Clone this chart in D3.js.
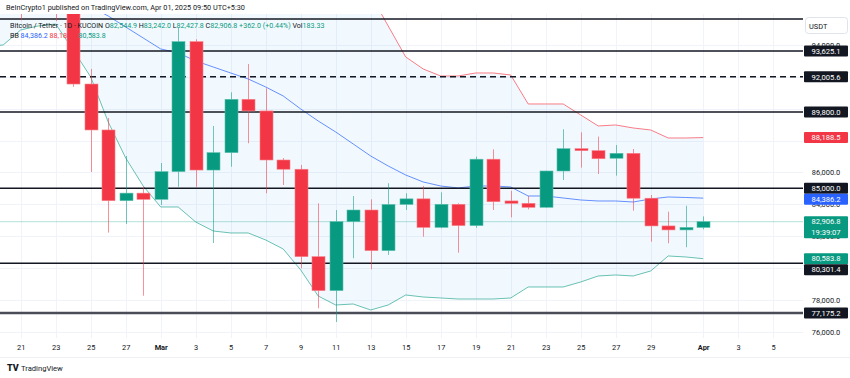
<!DOCTYPE html>
<html><head><meta charset="utf-8">
<script src="https://cdn.jsdelivr.net/npm/d3@7"></script>
<style>
html,body{margin:0;padding:0;background:#fff;}
svg{display:block;font-family:Roboto,"Liberation Sans",sans-serif;}
</style></head><body>
<svg id="chart" width="850" height="378"></svg>
<script>
// ---------- DATA ----------
const candleDates = ["2025-02-21","2025-02-22","2025-02-23","2025-02-24","2025-02-25","2025-02-26","2025-02-27","2025-02-28",
 "2025-03-01","2025-03-02","2025-03-03","2025-03-04","2025-03-05","2025-03-06","2025-03-07","2025-03-08","2025-03-09","2025-03-10",
 "2025-03-11","2025-03-12","2025-03-13","2025-03-14","2025-03-15","2025-03-16","2025-03-17","2025-03-18","2025-03-19","2025-03-20",
 "2025-03-21","2025-03-22","2025-03-23","2025-03-24","2025-03-25","2025-03-26","2025-03-27","2025-03-28","2025-03-29","2025-03-30",
 "2025-03-31","2025-04-01"];
const openV  = [98300,96150,96560,96280,91550,88665,84225,84700,84310,86050,94210,86150,87240,90590,89860,86780,86200,80710,78580,82910,83640,81090,83990,84340,82550,84000,82660,86830,84210,84060,83810,86090,87490,87365,86890,87200,84380,82640,82390,82544.9];
const highV  = [99480,96900,96650,96500,92500,89420,87030,85100,86590,95070,94360,88915,91030,92810,91280,86900,86470,84060,83640,84520,84310,85320,84690,85150,84750,84060,86990,87450,84850,84520,86100,88710,88520,88250,87720,87470,84580,83535,83910,83242.0];
const lowV   = [95550,96000,95500,91370,86030,82220,82760,78260,83955,85100,85100,81570,86360,87830,84690,85210,79980,77470,76610,80610,79920,80820,83640,81965,82490,80960,82530,83640,83180,83680,83780,85525,86300,85900,85800,83600,81650,81550,81300,82427.8];
const closeV = [96150,96560,96280,91550,88665,84225,84700,84310,86050,94210,86150,87240,90590,89860,86780,86200,80710,78580,82910,83640,81090,83990,84340,82550,84000,82660,86830,84160,84060,83810,86090,87490,87365,86860,87200,84380,82640,82390,82545,82906.8];

const bbDates = ["2025-02-19","2025-02-20"].concat(candleDates);
const bbMiddle = [98100,98000,97900,97700,97400,97000,96400,95823,95132,94441,93751,93500,92997,92620,92244,91867,91365,90800,89983,89230,
 88539,87786,87032,86404,85839,85400,85148,85023,85148,85148,85086,84520,84520,84395,84269,84206,84206,84143,84332,84457,84426,84386.2];
const bbUpper = [102600,102500,102400,102300,102200,102100,102200,102400,102500,102500,102600,102300,102000,101700,101200,100900,100600,100300,100000,99700,
 99000,98200,97140,95195,93250,92495,92055,92055,92244,92244,92118,90297,90297,90297,89607,88916,88979,88790,88665,88162,88162,88188.5];
const bbLower = [93900,94002,94944,95195,95320,93688,91993,89167,86907,85149,83830,83830,82889,82323,82198,82198,81758,81193,79875,78242,
 77677,77740,77363,77677,78305,78179,78116,78053,78053,78053,78116,78807,78807,78807,79121,79498,79561,79498,79812,80754,80691,80583.8];

const solidLevels = [95634, 93625.1, 89800.0, 85000.0, 80301.4];
const dashedLevels = [92005.6];
const majorLevels = [77175.2];
const labelledLevels = [93625.1, 92005.6, 89800.0, 85000.0, 80301.4, 77175.2];

const yTicks = [94000, 92000, 90000, 86000, 84000, 82000, 78000, 76000];
const xTickDates = ["2025-02-21","2025-02-23","2025-02-25","2025-02-27","2025-03-01","2025-03-03","2025-03-05","2025-03-07","2025-03-09",
 "2025-03-11","2025-03-13","2025-03-15","2025-03-17","2025-03-19","2025-03-21","2025-03-23","2025-03-25","2025-03-27","2025-03-29",
 "2025-04-01","2025-04-03","2025-04-05"];
const xTickLabels = ["21","23","25","27","Mar","3","5","7","9","11","13","15","17","19","21","23","25","27","29","Apr","3","5"];

const lastPrice = 82906.8, lastChange = "+362.0 (+0.44%)", countdown = "19:39:07";
const bbMidLast = 84386.2, bbUpLast = 88188.5, bbLowLast = 80583.8;
const legendOHLC = {O:"82,544.9", H:"83,242.0", L:"82,427.8", C:"82,906.8"};

// ---------- SETUP ----------
const W = 850, H = 378;
const plotL = 0, plotR = 803, plotT = 14, plotB = 338;
const UP = "#089981", DOWN = "#F23645", INK = "#131722";
const parse = d3.utcParse("%Y-%m-%d");
const fmt = d3.format(",.1f");

const x = d3.scaleUtc().domain([parse("2025-02-21"), parse("2025-04-05")]).range([20.7, 773.2]);
const y = d3.scaleLinear().domain([76000, 94000]).range([331.7, 45.0]);

const svg = d3.select("#chart");
svg.append("rect").attr("width", W).attr("height", H).attr("fill", "#fff");

const defs = svg.append("defs");
defs.append("clipPath").attr("id","plotclip").append("rect")
  .attr("x", plotL).attr("y", plotT).attr("width", plotR - plotL).attr("height", plotB - plotT);

const plot = svg.append("g").attr("clip-path","url(#plotclip)");

// grid
const gridTicks = d3.range(76000, 94001, 2000);
plot.append("g").selectAll("line").data(gridTicks).join("line")
  .attr("x1", plotL).attr("x2", plotR)
  .attr("y1", d => Math.round(y(d)) + 0.5).attr("y2", d => Math.round(y(d)) + 0.5)
  .attr("stroke", "#f0f3fa");
plot.append("g").selectAll("line").data(xTickDates).join("line")
  .attr("x1", d => Math.round(x(parse(d))) + 0.5).attr("x2", d => Math.round(x(parse(d))) + 0.5)
  .attr("y1", plotT).attr("y2", plotB)
  .attr("stroke", "#f0f3fa");

// Bollinger bands
const bb = bbDates.map((d, i) => ({t: parse(d), m: bbMiddle[i], u: bbUpper[i], l: bbLower[i]}));
plot.append("path").datum(bb)
  .attr("d", d3.area().x(d => x(d.t)).y0(d => y(d.l)).y1(d => y(d.u)))
  .attr("fill", "rgba(33,150,243,0.06)");
const line = key => d3.line().x(d => x(d.t)).y(d => y(d[key]));
plot.append("path").datum(bb).attr("d", line("u")).attr("fill","none").attr("stroke","#F7525F").attr("stroke-opacity",0.75).attr("stroke-width",1);
plot.append("path").datum(bb).attr("d", line("l")).attr("fill","none").attr("stroke","#089981").attr("stroke-opacity",0.6).attr("stroke-width",1);
plot.append("path").datum(bb).attr("d", line("m")).attr("fill","none").attr("stroke","#2962FF").attr("stroke-opacity",0.7).attr("stroke-width",1);

// last price line
plot.append("line").attr("x1", plotL).attr("x2", plotR)
  .attr("y1", y(lastPrice)).attr("y2", y(lastPrice))
  .attr("stroke", UP).attr("stroke-opacity", 0.3).attr("stroke-width", 1);

// level lines
plot.append("g").selectAll("line").data(solidLevels).join("line")
  .attr("x1", plotL).attr("x2", plotR).attr("y1", d => y(d)).attr("y2", d => y(d))
  .attr("stroke", INK).attr("stroke-width", 1.5);
plot.append("g").selectAll("line").data(dashedLevels).join("line")
  .attr("x1", plotL).attr("x2", plotR).attr("y1", d => y(d)).attr("y2", d => y(d))
  .attr("stroke", INK).attr("stroke-width", 1.5).attr("stroke-dasharray", "6,4");
plot.append("g").selectAll("line").data(majorLevels).join("line")
  .attr("x1", plotL).attr("x2", plotR).attr("y1", d => y(d)).attr("y2", d => y(d))
  .attr("stroke", "#4a4d57").attr("stroke-width", 2.5);

// candles
const candles = candleDates.map((d, i) => ({t: parse(d), o: openV[i], h: highV[i], l: lowV[i], c: closeV[i]}));
const bw = 13;
const cg = plot.append("g").selectAll("g").data(candles).join("g");
cg.append("line")
  .attr("x1", d => Math.round(x(d.t)) + 0.5).attr("x2", d => Math.round(x(d.t)) + 0.5)
  .attr("y1", d => y(d.h)).attr("y2", d => y(d.l))
  .attr("stroke", d => d.c >= d.o ? UP : DOWN).attr("stroke-opacity", 0.55).attr("stroke-width", 1);
cg.append("rect")
  .attr("x", d => Math.round(x(d.t)) + 0.5 - bw / 2).attr("width", bw)
  .attr("y", d => y(Math.max(d.o, d.c)))
  .attr("height", d => Math.max(1.5, Math.abs(y(d.o) - y(d.c))))
  .attr("fill", d => d.c >= d.o ? UP : DOWN)
  .attr("stroke", d => d.c >= d.o ? "#5cc0ad" : "#f7808a").attr("stroke-width", 0.6);

// ---------- AXES ----------
const yAxisG = svg.append("g").attr("transform", `translate(${plotR},0)`);
const yAxis = d3.axisRight(y).tickValues(yTicks).tickSize(0).tickPadding(23).tickFormat(d => fmt(d));
yAxisG.call(yAxis);
yAxisG.select(".domain").remove();
yAxisG.selectAll("text").attr("fill", INK).attr("font-size", 7.4).attr("text-anchor", "middle")
  .attr("font-family", "Roboto, 'Liberation Sans', sans-serif");

const xAxisG = svg.append("g").attr("transform", `translate(0,${plotB})`);
const xAxis = d3.axisBottom(x).tickValues(xTickDates.map(parse)).tickSize(0).tickPadding(7)
  .tickFormat((d, i) => xTickLabels[i]);
xAxisG.call(xAxis);
xAxisG.select(".domain").remove();
xAxisG.selectAll("text").attr("fill", INK).attr("font-size", 7.4)
  .attr("font-weight", (d, i) => isNaN(+xTickLabels[i]) ? 700 : 400)
  .attr("font-family", "Roboto, 'Liberation Sans', sans-serif");

svg.append("line").attr("x1", 0).attr("x2", 850).attr("y1", 357.5).attr("y2", 357.5).attr("stroke", "#eef0f4");

// price label boxes with collision avoidance (push lower label down)
const boxX = plotR + 1, boxW = 44, boxH = 11;
const boxes = labelledLevels.map(v => ({v, bg: INK}))
  .concat([{v: bbUpLast, bg: DOWN}, {v: bbMidLast, bg: "#2962FF"}, {v: bbLowLast, bg: UP}, {v: lastPrice, bg: UP, sub: countdown}]);
boxes.forEach(b => { b.top = y(b.v) - boxH / 2; b.h = b.sub ? 22 : boxH; });
boxes.sort((a, b) => a.top - b.top);
let prevBottom = -Infinity;
boxes.forEach(b => { if (b.top < prevBottom) b.top = prevBottom; prevBottom = b.top + b.h; });
boxes.forEach(b => {
  svg.append("rect").attr("x", boxX).attr("y", b.top).attr("width", boxW).attr("height", b.h)
    .attr("fill", b.bg).attr("rx", 1);
  svg.append("text").attr("x", boxX + boxW / 2).attr("y", b.top + 8.3).attr("text-anchor", "middle")
    .attr("font-size", 7.6).attr("fill", "#fff").text(fmt(b.v));
  if (b.sub) svg.append("text").attr("x", boxX + boxW / 2).attr("y", b.top + 18.8).attr("text-anchor", "middle")
    .attr("font-size", 7.6).attr("fill", "#fff").text(b.sub);
});

// USDT box
svg.append("rect").attr("x", 805.5).attr("y", 17.5).attr("width", 42).attr("height", 16)
  .attr("rx", 3).attr("fill", "#fff").attr("stroke", "#e0e3eb");
svg.append("text").attr("x", 809).attr("y", 28.5).attr("font-size", 7.4).attr("fill", INK).text("USDT");

// header
svg.append("text").attr("x", 6).attr("y", 10).attr("font-size", 7.3).attr("fill", INK)
  .text("BeInCrypto1 published on TradingView.com, Apr 01, 2025 09:50 UTC+5:30");

// legend
const lg1 = svg.append("text").attr("x", 10).attr("y", 27.5).attr("font-size", 7.1).attr("fill", INK);
lg1.append("tspan").text("Bitcoin / Tether · 1D · KUCOIN ");
["O","H","L","C"].forEach(k => {
  lg1.append("tspan").attr("fill", INK).text(" " + k);
  lg1.append("tspan").attr("fill", UP).text(legendOHLC[k]);
});
lg1.append("tspan").attr("fill", UP).text(" " + lastChange);
lg1.append("tspan").attr("fill", INK).text("  Vol");
lg1.append("tspan").attr("fill", UP).text("183.33");

const lg2 = svg.append("text").attr("x", 10).attr("y", 38).attr("font-size", 7.1).attr("fill", INK);
lg2.append("tspan").text("BB ");
lg2.append("tspan").attr("fill", "#2962FF").text(" " + fmt(bbMidLast));
lg2.append("tspan").attr("fill", DOWN).text("  " + fmt(bbUpLast));
lg2.append("tspan").attr("fill", UP).text("  " + fmt(bbLowLast));

// TradingView footer
svg.append("text").attr("x", 7).attr("y", 371).attr("font-size", 9).attr("font-weight", 900).attr("fill", INK).text("TV");
svg.append("text").attr("x", 21).attr("y", 371).attr("font-size", 7.6).attr("fill", INK).text("TradingView");
</script>
</body></html>
